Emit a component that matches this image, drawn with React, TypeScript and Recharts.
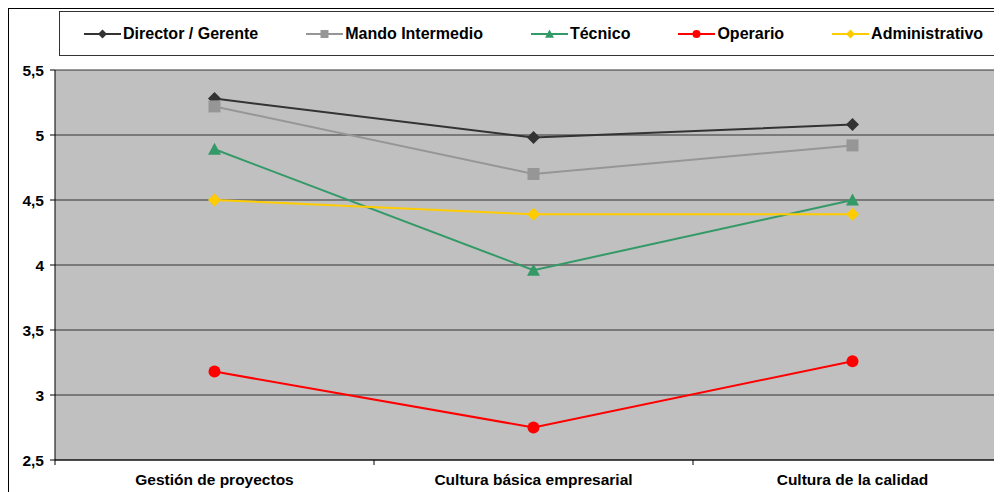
import React from 'react'
import { LineChart, Line, XAxis, YAxis, CartesianGrid } from 'recharts'

const categories = ['Gestión de proyectos', 'Cultura básica empresarial', 'Cultura de la calidad']
const director = [5.28, 4.98, 5.08]
const mando = [5.22, 4.7, 4.92]
const tecnico = [4.89, 3.96, 4.5]
const operario = [3.18, 2.75, 3.26]
const administrativo = [4.5, 4.39, 4.39]
const yTicks = [2.5, 3, 3.5, 4, 4.5, 5, 5.5]

const FONT = '"Liberation Sans", Arial, sans-serif'

type Shape = 'diamond' | 'square' | 'triangle' | 'circle'

const series: { key: string; name: string; color: string; shape: Shape; values: number[] }[] = [
  { key: 'director', name: 'Director / Gerente', color: '#333333', shape: 'diamond', values: director },
  { key: 'mando', name: 'Mando Intermedio', color: '#969696', shape: 'square', values: mando },
  { key: 'tecnico', name: 'Técnico', color: '#339966', shape: 'triangle', values: tecnico },
  { key: 'operario', name: 'Operario', color: '#FF0000', shape: 'circle', values: operario },
  { key: 'administrativo', name: 'Administrativo', color: '#FFCC00', shape: 'diamond', values: administrativo },
]

// x sits in the middle of each category band (0..3 domain)
const data = categories.map((c, i) => {
  const row: Record<string, number | string> = { name: c, x: i + 0.5 }
  series.forEach((s) => (row[s.key] = s.values[i]))
  return row
})

const xTicks = [0, 0.5, 1, 1.5, 2, 2.5, 3]

function Marker({ shape, cx, cy, color, r = 6.5 }: { shape: Shape; cx: number; cy: number; color: string; r?: number }) {
  if (shape === 'diamond')
    return <polygon points={`${cx},${cy - r} ${cx + r},${cy} ${cx},${cy + r} ${cx - r},${cy}`} fill={color} />
  if (shape === 'square') return <rect x={cx - r + 0.5} y={cy - r + 0.5} width={2 * r - 1} height={2 * r - 1} fill={color} />
  if (shape === 'triangle')
    return (
      <polygon
        points={`${cx},${cy - r} ${cx + r},${cy + r * 0.85} ${cx - r},${cy + r * 0.85}`}
        fill={color}
      />
    )
  return <circle cx={cx} cy={cy} r={r - 0.5} fill={color} />
}

// eslint-disable-next-line @typescript-eslint/no-explicit-any
const XTick = ({ x, y, payload }: any) => {
  const v = payload.value as number
  if (Number.isInteger(v)) {
    return <line x1={x} y1={y} x2={x} y2={y + 5} stroke="#000" />
  }
  return (
    <text x={x} y={y + 25} textAnchor="middle" fontFamily={FONT} fontWeight="bold" fontSize={15.5} fill="#000">
      {categories[Math.floor(v)]}
    </text>
  )
}

function LegendBox() {
  return (
    <div
      style={{
        position: 'absolute',
        left: 50,
        top: 2,
        width: 940,
        height: 45,
        borderTop: '1px solid #333',
        borderBottom: '1px solid #333',
        borderLeft: '1px solid #333',
        background: '#fff',
        display: 'flex',
        alignItems: 'center',
        paddingLeft: 24,
        gap: 48,
        boxSizing: 'border-box',
        fontFamily: FONT,
        fontWeight: 'bold',
        fontSize: 16,
      }}
    >
      {series.map((s) => (
        <div key={s.key} style={{ display: 'flex', alignItems: 'center', gap: 2, whiteSpace: 'nowrap' }}>
          <svg width={37} height={12}>
            <line x1={0} y1={6} x2={37} y2={6} stroke={s.color} strokeWidth={2} />
            <Marker shape={s.shape} cx={18.5} cy={6} color={s.color} r={4.5} />
          </svg>
          <span>{s.name}</span>
        </div>
      ))}
    </div>
  )
}

export default function App() {
  return (
    <div
      style={{
        position: 'relative',
        width: 993,
        height: 483,
        borderTop: '1px solid #000',
        borderLeft: '1px solid #000',
      }}
    >
      <LineChart width={993} height={483} data={data} margin={{ top: 61, right: -10, left: 0, bottom: 0 }}>
        <CartesianGrid vertical={false} stroke="#333" fill="#C0C0C0" fillOpacity={1} />
        <XAxis
          dataKey="x"
          type="number"
          domain={[0, 3]}
          ticks={xTicks}
          interval={0}
          tick={<XTick />}
          tickLine={false}
          tickSize={0}
          tickMargin={0}
          height={32}
          axisLine={{ stroke: '#000' }}
        />
        <YAxis
          type="number"
          domain={[2.5, 5.5]}
          ticks={yTicks}
          interval={0}
          width={46}
          tickSize={5}
          tickMargin={6}
          axisLine={{ stroke: '#000' }}
          tickLine={{ stroke: '#000' }}
          tick={{ fill: '#000', fontSize: 15.5, fontWeight: 'bold', fontFamily: FONT }}
          tickFormatter={(v: number) => String(v).replace('.', ',')}
        />
        {series.map((s) => (
          <Line
            key={s.key}
            dataKey={s.key}
            name={s.name}
            type="linear"
            stroke={s.color}
            strokeWidth={2}
            isAnimationActive={false}
            // eslint-disable-next-line @typescript-eslint/no-explicit-any
            dot={(p: any) => <Marker key={`${s.key}-${p.index}`} shape={s.shape} cx={p.cx} cy={p.cy} color={s.color} />}
            activeDot={false}
          />
        ))}
      </LineChart>
      <LegendBox />
    </div>
  )
}
